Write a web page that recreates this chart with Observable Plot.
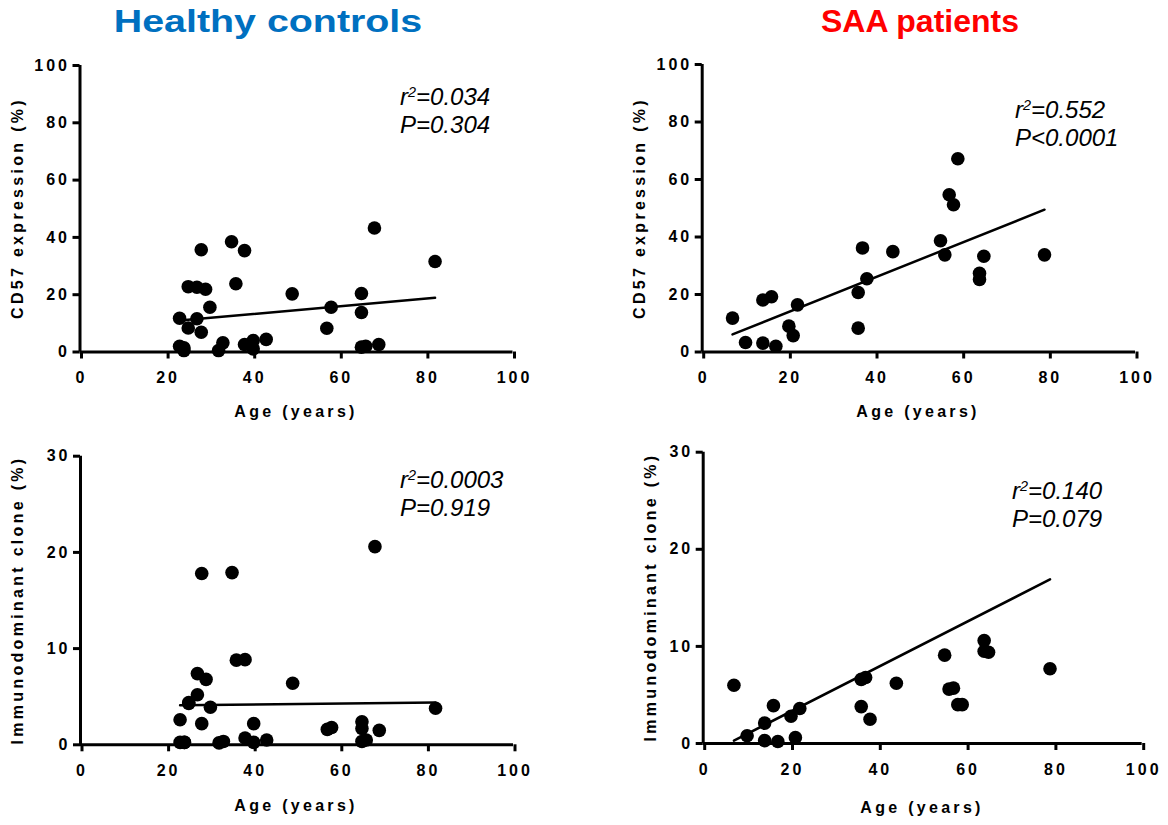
<!DOCTYPE html>
<html>
<head>
<meta charset="utf-8">
<script src="https://cdn.jsdelivr.net/npm/d3@7"></script>
<script src="https://cdn.jsdelivr.net/npm/@observablehq/plot@0.6"></script>
<style>
  html, body { margin: 0; padding: 0; background: #fff; }
  #root { position: relative; width: 1168px; height: 825px; overflow: hidden; font-family: 'Liberation Sans', Arial, sans-serif; }
  .title { position: absolute; font-weight: bold; font-size: 32px; white-space: nowrap; }
  .xlab, .ylab { position: absolute; font-weight: bold; font-size: 16px; letter-spacing: 3.3px; white-space: nowrap; line-height: 1; }
  .xlab { transform: translate(-50%, -50%); }
  .ylab { transform: translate(-50%, -50%) rotate(-90deg); }
  .ann { position: absolute; font-style: italic; font-size: 24px; line-height: 28px; white-space: nowrap; }
  .ann sup { font-size: 0.6em; line-height: 0; vertical-align: 0.55em; }
  svg { position: absolute; overflow: visible; }
  svg text { font-size: 16px; font-weight: bold; }
</style>
</head>
<body>
<div id="root"></div>
<script>
// ---------- data ----------
const xTicks = [0, 20, 40, 60, 80, 100];
const cd57Ticks = [0, 20, 40, 60, 80, 100];
const cloneTicks = [0, 10, 20, 30];

// Healthy controls
const ageH   = [23, 23, 24, 24, 25, 25, 27, 27, 28, 28, 29, 30, 32, 33, 35, 36, 38, 38, 40, 40, 43, 49, 57, 58, 65, 65, 65, 66, 68, 69, 82];
const cd57H  = [11.8, 2.0, 0.5, 1.5, 8.4, 22.8, 22.6, 11.6, 35.7, 6.9, 21.9, 15.6, 0.5, 3.2, 38.5, 23.8, 35.4, 2.6, 4.0, 1.1, 4.4, 20.3, 8.3, 15.6, 20.4, 13.8, 1.7, 2.0, 43.3, 2.6, 31.6];
const cloneH = [2.6, 0.25, 0.25, 0.25, 4.4, 4.3, 7.4, 5.2, 17.8, 2.2, 6.8, 3.9, 0.2, 0.35, 17.9, 8.8, 8.85, 0.7, 2.2, 0.25, 0.5, 6.4, 1.6, 1.8, 2.4, 1.7, 0.35, 0.5, 20.6, 1.5, 3.8];

// SAA patients
const ageS   = [7, 10, 14, 14, 16, 17, 20, 21, 22, 36, 36, 37, 38, 44, 55, 56, 57, 58, 59, 64, 64, 65, 79];
const cd57S  = [11.8, 3.3, 3.1, 18.1, 19.2, 2.0, 9.0, 5.7, 16.4, 20.7, 8.3, 36.2, 25.5, 34.9, 38.7, 33.8, 54.7, 51.2, 67.2, 27.4, 25.2, 33.3, 33.8];
const cloneS = [6.0, 0.8, 0.3, 2.1, 3.9, 0.2, 2.8, 0.6, 3.6, 6.6, 3.8, 6.8, 2.5, 6.2, 9.1, 5.6, 5.7, 4.0, 4.0, 10.6, 9.5, 9.4, 7.7];

// fitted regression lines (end points)
const fitAgeH = [23, 82];
const fitCd57H = [11.0, 18.9];
const fitCloneH = [4.1, 4.4];
const fitAgeS = [7, 79];
const fitCd57S = [6.1, 49.5];
const fitCloneS = [0.3, 16.9];

// ---------- drawing ----------
const root = document.getElementById("root");

function addDiv(cls, html, x, y, style) {
  const d = document.createElement("div");
  d.className = cls;
  d.innerHTML = html;
  d.style.left = x + "px";
  d.style.top = y + "px";
  if (style) Object.assign(d.style, style);
  root.appendChild(d);
  return d;
}

function panel(cfg) {
  const pts = cfg.x.map((x, i) => ({x, y: cfg.y[i]}));
  const fit = cfg.fitX.map((x, i) => ({x, y: cfg.fitY[i]}));
  const svg = Plot.plot({
    width: cfg.w,
    height: cfg.h,
    marginLeft: cfg.x0 - cfg.left,
    marginRight: cfg.left + cfg.w - cfg.x1,
    marginTop: cfg.yTop - cfg.top,
    marginBottom: cfg.top + cfg.h - cfg.yBot,
    x: {domain: [0, 100]},
    y: {domain: [0, cfg.yMax]},
    style: {fontFamily: "'Liberation Sans', Arial, sans-serif", fontSize: "16px", fontWeight: "bold", letterSpacing: "3px", background: "transparent", color: "black"},
    marks: [
      Plot.axisX({ticks: xTicks, tickSize: 7, strokeWidth: 3, tickPadding: 13, fontSize: 16, fontWeight: "bold", label: null, tickFormat: d => String(d), dx: 1.5}),
      Plot.axisY({ticks: cfg.yTicks, tickSize: 7, strokeWidth: 3, tickPadding: 3, fontSize: 16, fontWeight: "bold", label: null, tickFormat: d => String(d)}),
      Plot.ruleY([0], {stroke: "black", strokeWidth: 3}),
      Plot.ruleX([0], {stroke: "black", strokeWidth: 3}),
      Plot.dot(pts, {x: "x", y: "y", r: 6.8, fill: "black", stroke: "none"}),
      Plot.line(fit, {x: "x", y: "y", stroke: "black", strokeWidth: 2.5})
    ]
  });
  svg.style.left = cfg.left + "px";
  svg.style.top = cfg.top + "px";
  root.appendChild(svg);
}

panel({left: 0, top: 40, w: 584, h: 370, x0: 79.5, x1: 512.5, yTop: 65, yBot: 351.5, yMax: 100, yTicks: cd57Ticks,
  x: ageH, y: cd57H, fitX: fitAgeH, fitY: fitCd57H});
panel({left: 584, top: 40, w: 584, h: 370, x0: 701.7, x1: 1135, yTop: 64, yBot: 351.5, yMax: 100, yTicks: cd57Ticks,
  x: ageS, y: cd57S, fitX: fitAgeS, fitY: fitCd57S});
panel({left: 0, top: 425, w: 584, h: 395, x0: 80, x1: 513, yTop: 455.7, yBot: 744.3, yMax: 30, yTicks: cloneTicks,
  x: ageH, y: cloneH, fitX: fitAgeH, fitY: fitCloneH});
panel({left: 584, top: 425, w: 584, h: 395, x0: 702.7, x1: 1141.7, yTop: 451.7, yBot: 743, yMax: 30, yTicks: cloneTicks,
  x: ageS, y: cloneS, fitX: fitAgeS, fitY: fitCloneS});

// titles
addDiv("title", "Healthy controls", 268, 21, {color: "#0070C0", transform: "translate(-50%, -50%) scaleX(1.23)"});
addDiv("title", "SAA patients", 920, 21, {color: "#FF0000", transform: "translate(-50%, -50%)"});

// axis labels
addDiv("xlab", "Age (years)", 296, 412);
addDiv("xlab", "Age (years)", 918, 412);
addDiv("xlab", "Age (years)", 296, 806);
addDiv("xlab", "Age (years)", 922, 808);
addDiv("ylab", "CD57 expression (%)", 18, 208);
addDiv("ylab", "CD57 expression (%)", 640, 208);
addDiv("ylab", "Immunodominant clone (%)", 18, 600);
addDiv("ylab", "Immunodominant clone (%)", 651, 597);

// annotations
addDiv("ann", "r<sup>2</sup>=0.034<br>P=0.304", 400, 83);
addDiv("ann", "r<sup>2</sup>=0.552<br>P&lt;0.0001", 1015, 96);
addDiv("ann", "r<sup>2</sup>=0.0003<br>P=0.919", 400, 466);
addDiv("ann", "r<sup>2</sup>=0.140<br>P=0.079", 1012, 477);
</script>
</body>
</html>
